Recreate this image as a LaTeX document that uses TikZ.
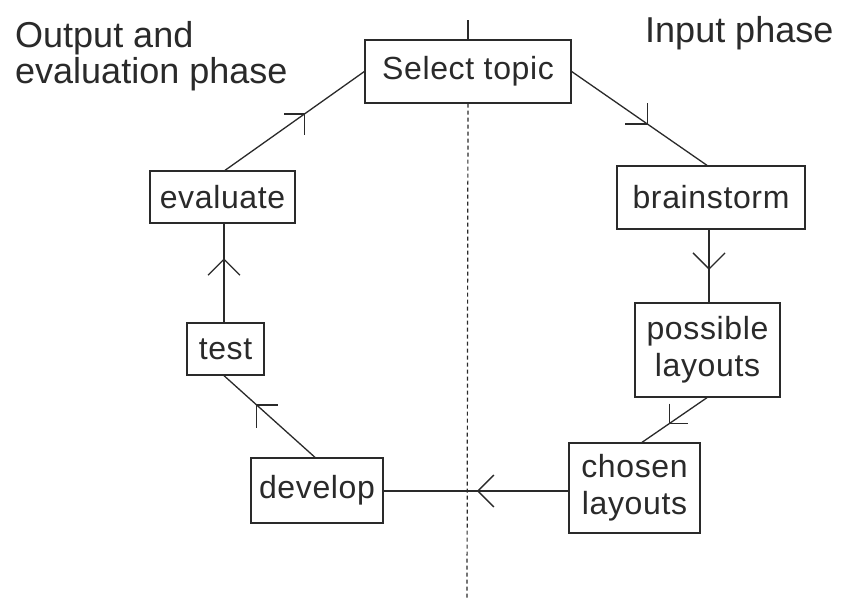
\documentclass[tikz,border=0pt]{standalone}
\usepackage{fontspec}
\setmainfont{Liberation Sans}
\newfontfamily\boxfont[LetterSpace=2]{Liberation Sans}
\usetikzlibrary{decorations.markings}
\definecolor{ink}{HTML}{2A2A2A}
\tikzset{
  box/.style={draw=ink, line width=1.3pt, inner sep=0pt, text=ink, align=center,
    font=\boxfont\fontsize{32}{37}\selectfont},
  lbl/.style={inner sep=0pt, text=ink, font=\fontsize{36}{40}\selectfont, anchor=base west},
  link/.style={draw=ink, line width=1.3pt},
  chev/.style={postaction={decorate, decoration={markings,
      mark=at position #1 with {\draw[ink, line width=1.3pt] (-16pt,16pt) -- (0pt,0pt) -- (-16pt,-16pt);}}}},
  achev/.style n args={3}{postaction={decorate, decoration={markings,
      mark=at position #1 with {\pgftransformresetnontranslations
        \draw[ink, line width=1.3pt] (#2) -- (0pt,0pt) -- (#3);}}}}
}
\begin{document}
\begin{tikzpicture}[x=1pt, y=-1pt]
\useasboundingbox[fill=white] (0,0) rectangle (845,600);
% boxes
\node[box, minimum width=206pt, minimum height=63pt] (sel) at (468,71.5) {Select topic};
\node[box, minimum width=188pt, minimum height=63pt] (brain) at (711,197.5) {brainstorm};
\node[box, minimum width=145pt, minimum height=94pt] (poss) at (707.5,350) {possible\\layouts};
\node[box, minimum width=131pt, minimum height=90pt] (chos) at (634.5,488) {chosen\\layouts};
\node[box, minimum width=132pt, minimum height=65pt] (dev) at (317,490.5) {develop};
\node[box, minimum width=77pt, minimum height=52pt] (test) at (225.5,349) {test};
\node[box, minimum width=145pt, minimum height=52pt] (eval) at (222.5,197) {evaluate};
% labels
\node[lbl] (out1) at (15,47) {Output and};
\node[lbl] (out2) at (15,83) {evaluation phase};
\node[lbl] (inp) at (645,42) {Input phase};
% divider
\coordinate (topend) at (468,20);
\coordinate (botend) at (467,600);
\draw[ink, line width=1.2pt] (topend) -- (sel.north);
\draw[ink, line width=1.2pt, dash pattern=on 4pt off 3pt] (sel.south) -- (botend);
% connectors
\path[link, achev={0.56}{-22pt,0pt}{0pt,21pt}] (sel.east) -- ([xshift=-4pt]brain.north);
\path[link, chev=0.54] ([xshift=-2pt]brain.south) -- ([xshift=1.5pt]poss.north);
\path[link, achev={0.58}{0pt,20pt}{19pt,0pt}] ([xshift=-0.5pt]poss.south) -- ([xshift=7.5pt]chos.north);
\path[link, chev=0.49] ([yshift=-3pt]chos.west) -- ([yshift=-0.5pt]dev.east);
\path[link, achev={0.64}{21pt,0pt}{0pt,-23pt}] ([xshift=-2pt]dev.north) -- ([xshift=-1.5pt]test.south);
\path[link, chev=0.64] ([xshift=-1.5pt]test.north) -- ([xshift=1.5pt]eval.south);
\path[link, achev={0.57}{-20pt,0pt}{0pt,-21pt}] ([xshift=2.5pt]eval.north) -- (sel.west);
\end{tikzpicture}
\end{document}
